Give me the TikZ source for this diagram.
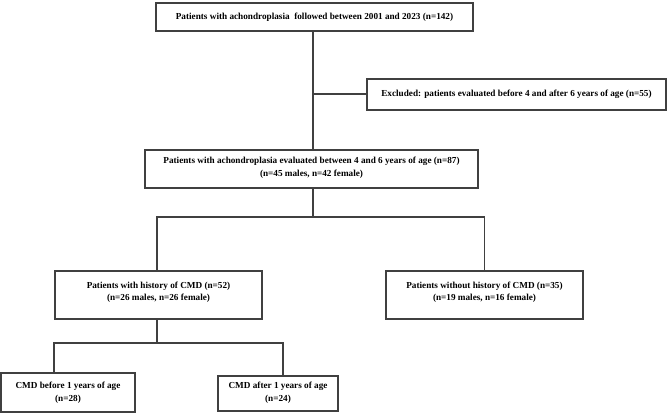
\documentclass[tikz,border=0pt]{standalone}
\usepackage{fontspec}
\setmainfont{Liberation Serif}
\begin{document}
\begin{tikzpicture}[x=1pt,y=-1pt,
  box/.style={draw=black!75, line width=1.1pt, fill=white, align=center, inner sep=0pt,
    font=\fontsize{9.2}{12.5}\selectfont\bfseries},
  conn/.style={draw=black!75, line width=1.1pt}]
\useasboundingbox (0,0) rectangle (669,413);
\node[box, minimum width=317, minimum height=28] (b1) at (314.5,17) {Patients with achondroplasia\ \ followed between 2001 and 2023 (n=142)};
\node[box, minimum width=299, minimum height=31] (b2) at (516.5,94.5) {Excluded: patients evaluated before 4 and after 6 years of age (n=55)};
\node[box, minimum width=333, minimum height=38] (b3) at (311.5,169) {Patients with achondroplasia evaluated between 4 and 6 years of age (n=87)\\(n=45 males, n=42 female)\\[-8.5pt]};
\node[box, minimum width=207, minimum height=48] (b4) at (158.5,295) {Patients with history of CMD (n=52)\\(n=26 males, n=26 female)\\[-5.5pt]};
\node[box, minimum width=197, minimum height=48] (b5) at (484.5,295) {Patients without history of CMD (n=35)\\(n=19 males, n=16 female)\\[-5.5pt]};
\node[box, minimum width=134, minimum height=39] (b6) at (68,392.5) {CMD before 1 years of age\\(n=28)};
\node[box, minimum width=120, minimum height=35] (b7) at (278,393.5) {\mbox{}\\[-7.5pt]CMD after 1 years of age\\(n=24)};
\coordinate (j1) at (313,94);
\coordinate (j2) at (313,217);
\coordinate (j3) at (157,343);
\coordinate (l6) at (54,343);
\coordinate (l7) at (283,343);
\draw[conn] (b1.south -| j1) -- (b3.north -| j1);
\draw[conn] (j1) -- (j1 -| b2.west);
\draw[conn] (b3.south -| j2) -- (j2);
\draw[conn] (b4.north -| j3) |- (j2) -| (b5.north);
\draw[conn] (b4.south -| j3) -- (j3);
\draw[conn] (l6 |- b6.north) -- (l6) -- (l7) -- (l7 |- b7.north);
\end{tikzpicture}
\end{document}
